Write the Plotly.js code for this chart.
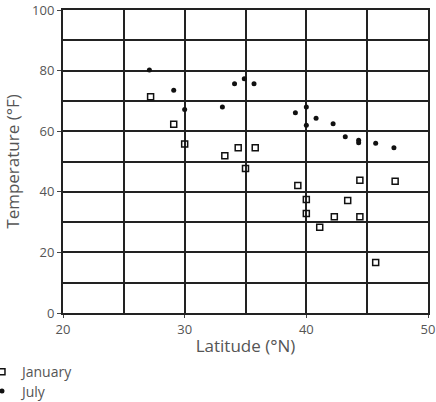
<!DOCTYPE html>
<html>
<head>
<meta charset="utf-8">
<script src="https://cdn.plot.ly/plotly-3.0.1.min.js"></script>
<style>html,body{margin:0;padding:0;background:#fff;}#chart{width:436px;height:402px;}</style>
</head>
<body>
<div id="chart"></div>
<script>
// January (open squares)
const janLat = [27.2, 29.1, 30.0, 33.3, 34.4, 35.8, 35.0, 39.3, 40.0, 40.0, 41.1, 42.3, 43.4, 44.4, 44.4, 47.3, 45.7];
const janTemp = [71.4, 62.3, 55.8, 51.9, 54.5, 54.5, 47.7, 42.1, 37.5, 32.8, 28.3, 31.8, 37.1, 43.8, 31.8, 43.5, 16.7];
// July (filled dots)
const julLat = [27.1, 29.1, 30.0, 33.1, 34.1, 34.9, 35.7, 39.1, 40.0, 40.0, 40.8, 42.2, 43.2, 44.3, 44.3, 45.7, 47.2];
const julTemp = [80.2, 73.5, 67.2, 68.0, 75.7, 77.3, 75.7, 66.1, 68.0, 62.0, 64.3, 62.5, 58.2, 57.0, 56.2, 56.0, 54.5];
const xTicks = [20, 30, 40, 50];
const yTicks = [0, 20, 40, 60, 80, 100];

const font = {family: "Open Sans, Noto Sans, sans-serif", size: 13, color: "#555"};
const traces = [
  {x: janLat, y: janTemp, name: "January", type: "scatter", mode: "markers", legend: "legend",
   marker: {symbol: "square-open", size: 6, color: "#111", line: {width: 1.5, color: "#111"}}},
  {x: julLat, y: julTemp, name: "July", type: "scatter", mode: "markers", legend: "legend2",
   marker: {symbol: "circle", size: 5, color: "#111"}}
];
const grid = {showgrid: true, gridcolor: "#222", gridwidth: 2};
const legBase = {xanchor: "left", yanchor: "middle", font: {size: 14, color: "#555"},
  bgcolor: "rgba(0,0,0,0)", itemwidth: 30, borderwidth: 0};
const layout = {
  width: 436, height: 402,
  margin: {l: 63, r: 8, t: 10, b: 89, autoexpand: false},
  paper_bgcolor: "#fff", plot_bgcolor: "#fff",
  font: font,
  showlegend: true,
  legend: Object.assign({x: -0.222, y: -0.195}, legBase),
  legend2: Object.assign({x: -0.222, y: -0.259}, legBase),
  xaxis: Object.assign({range: [20, 50], tickvals: xTicks, ticks: "outside", ticklen: 3, tickcolor: "#444",
    showline: true, linecolor: "#222", linewidth: 2, mirror: true, zeroline: false,
    minor: {dtick: 5, tick0: 20, showgrid: true, gridcolor: "#222", gridwidth: 2, ticks: ""},
    title: {text: "Latitude (°N)", font: {size: 17, color: "#555"}, standoff: 4},
    tickfont: {size: 13, color: "#555"}}, grid),
  yaxis: Object.assign({range: [0, 100], tickvals: yTicks, ticks: "outside", ticklen: 4, tickcolor: "#444",
    showline: true, linecolor: "#222", linewidth: 2, mirror: true, zeroline: false,
    minor: {dtick: 10, tick0: 0, showgrid: true, gridcolor: "#222", gridwidth: 2, ticks: ""},
    title: {text: "Temperature (°F)", font: {size: 17, color: "#555"}, standoff: 8},
    tickfont: {size: 13, color: "#555"}}, grid)
};
Plotly.newPlot("chart", traces, layout, {displayModeBar: false, staticPlot: true});
</script>
</body>
</html>
